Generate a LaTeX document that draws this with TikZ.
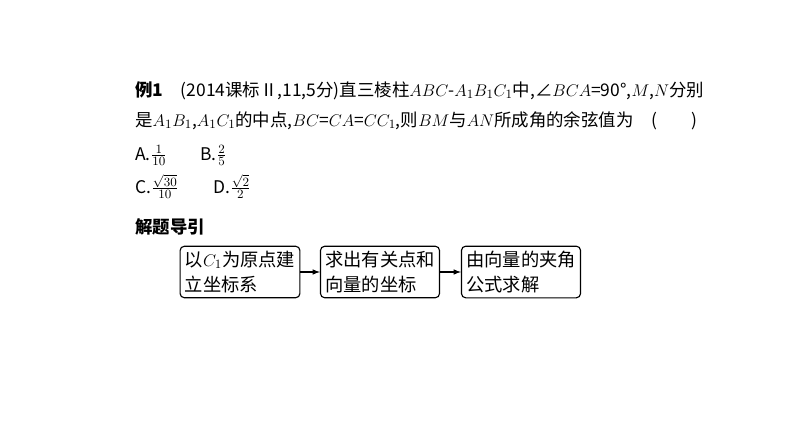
\documentclass[tikz,border=0pt]{standalone}
\usepackage{amsmath}
\usepackage{fontspec}
\setmainfont{Noto Sans CJK SC}
\usetikzlibrary{positioning}
\begin{document}
\begin{tikzpicture}[x=0.025cm,y=-0.025cm,
line/.style = {anchor=base west, inner sep=0pt, font=\fontsize{12.4}{15}\selectfont},
stepbox/.style = {draw, rounded corners=3pt, thick, minimum width=2.85cm, minimum height=1.25cm,
  align=left, font=\fontsize{13}{18}\selectfont},
flow/.style = {-latex, thick}]
\useasboundingbox (0,0) rectangle (794,447);
\node[line] (l1) at (135,96) {\textbf{例1}\quad(2014课标Ⅱ,11,5分)直三棱柱$ABC$-$A_1B_1C_1$中,∠$BCA$=90°,$M$,$N$分别};
\node[line] (l2) at (135,126) {是$A_1B_1$,$A_1C_1$的中点,$BC$=$CA$=$CC_1$,则$BM$与$AN$所成角的余弦值为\quad(\qquad)};
\node[line] (a) at (135,160) {A.$\frac{1}{10}$};
\node[line] (b) at (200,160) {B.$\frac{2}{5}$};
\node[line] (c) at (135,193) {C.$\frac{\sqrt{30}}{10}$};
\node[line] (d) at (213,193) {D.$\frac{\sqrt{2}}{2}$};
\node[line] (guide) at (135,233) {\textbf{解题导引}};
\node[stepbox] (s1) at (240,272) {以$C_1$为原点建\\立坐标系};
\node[stepbox] (s2) at (380,272) {求出有关点和\\向量的坐标};
\node[stepbox] (s3) at (521,272) {由向量的夹角\\公式求解};
\draw[flow] (s1) -- (s2);
\draw[flow] (s2) -- (s3);
\end{tikzpicture}
\end{document}
